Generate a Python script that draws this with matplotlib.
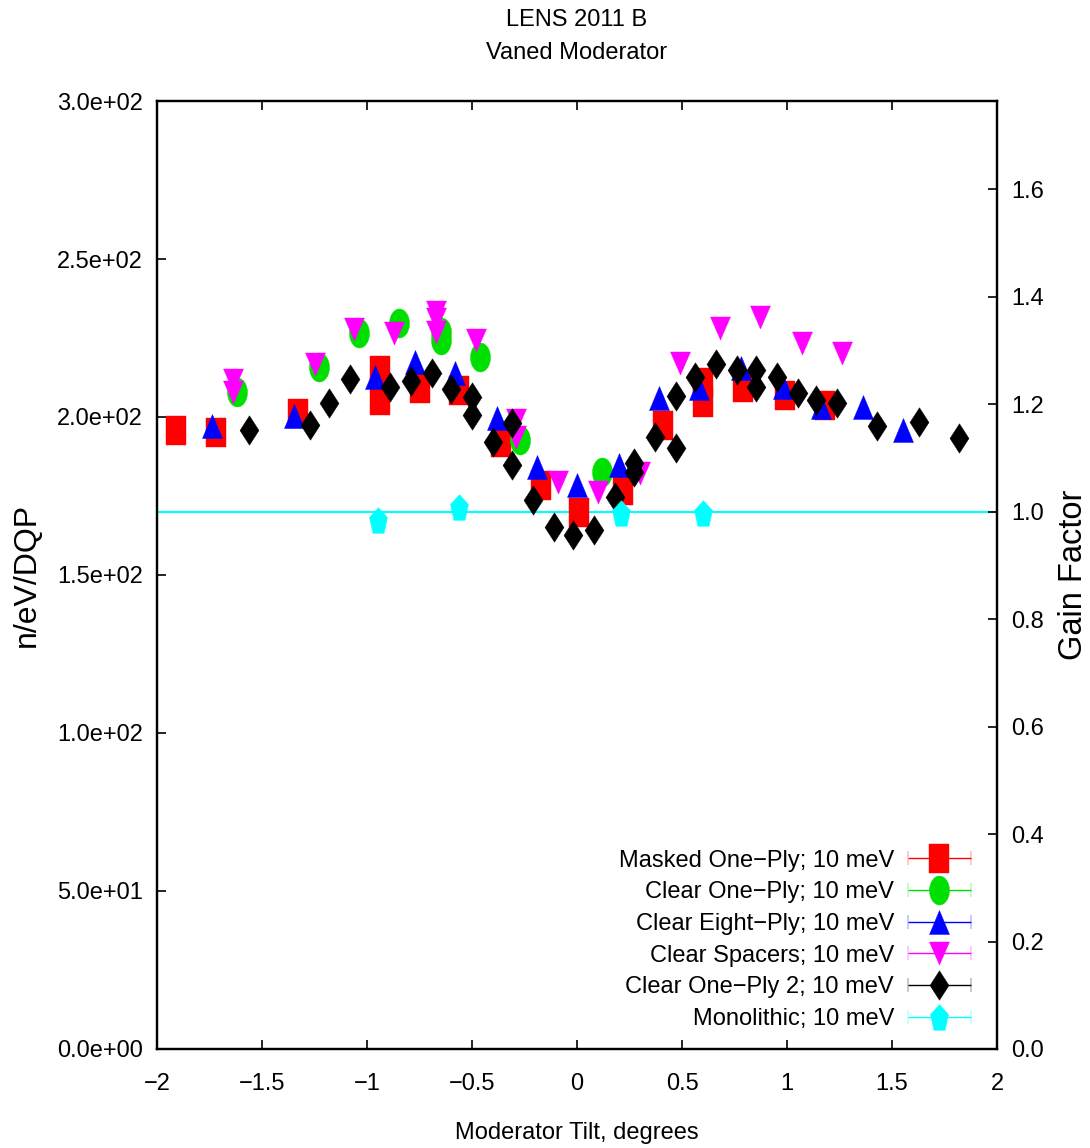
import numpy as np
import matplotlib
matplotlib.use("Agg")
import matplotlib.pyplot as plt
from matplotlib.path import Path
from matplotlib.ticker import FuncFormatter, MultipleLocator
from matplotlib.legend_handler import HandlerErrorbar
from matplotlib.container import ErrorbarContainer

plt.rcParams['font.family'] = ['Liberation Sans', 'DejaVu Sans']
plt.rcParams['axes.unicode_minus'] = True

# ---- measured flux (n/eV/DQP) versus moderator tilt (degrees) ----
masked_x = [-1.91, -1.72, -1.33, -0.94, -0.94, -0.75, -0.56, -0.36, -0.17, 0.01,
            0.22, 0.41, 0.60, 0.60, 0.79, 0.99, 1.18]
masked_y = [195.9, 195.2, 201.4, 214.9, 205.4, 209.1, 208.5, 192.2, 178.5, 170.0,
            176.9, 197.5, 211.2, 204.9, 209.6, 207.0, 203.8]

clear1_x = [-1.62, -1.23, -1.04, -0.85, -0.65, -0.65, -0.46, -0.27, 0.12]
clear1_y = [208.0, 215.9, 226.5, 229.7, 227.0, 224.4, 219.1, 192.7, 182.7]

clear8_x = [-1.74, -1.35, -0.96, -0.77, -0.58, -0.38, -0.19, 0.00, 0.20, 0.39,
            0.58, 0.78, 0.98, 1.16, 1.36, 1.55]
clear8_y = [197.0, 200.3, 212.6, 217.5, 213.8, 199.6, 184.3, 178.5, 184.8, 205.9,
            209.1, 215.4, 209.6, 203.3, 203.3, 195.9]

spacers_x = [-1.64, -1.64, -1.25, -1.06, -0.87, -0.67, -0.67, -0.67, -0.48, -0.29,
             -0.29, -0.09, 0.10, 0.30, 0.49, 0.68, 0.87, 1.07, 1.26]
spacers_y = [211.7, 208.0, 216.8, 228.0, 226.5, 233.3, 231.0, 227.0, 224.4, 199.0,
             193.7, 179.5, 176.4, 182.3, 217.0, 228.1, 231.7, 223.3, 220.2]

clear1b_x = [-1.56, -1.27, -1.18, -1.08, -0.89, -0.79, -0.69, -0.60, -0.50, -0.50,
             -0.40, -0.31, -0.31, -0.21, -0.11, -0.02, 0.08, 0.18, 0.27, 0.27,
             0.37, 0.47, 0.47, 0.56, 0.66, 0.76, 0.85, 0.85, 0.95, 1.05,
             1.14, 1.24, 1.43, 1.63, 1.82]
clear1b_y = [195.9, 197.5, 204.3, 211.9, 209.4, 211.5, 213.8, 208.8, 206.4, 200.6,
             192.2, 198.0, 184.8, 173.7, 165.3, 162.7, 164.2, 174.8, 185.5, 182.6,
             193.6, 190.1, 206.6, 212.6, 216.8, 214.9, 214.9, 209.6, 212.6, 207.7,
             205.4, 204.3, 197.0, 198.5, 193.3]

mono_x = [-0.95, -0.56, 0.21, 0.60]
mono_y = [167.4, 171.6, 169.7, 169.7]

# flux of the monolithic moderator, taken as gain factor 1
mono_ref = 170.0

labels = ["Masked One\u2212Ply; 10 meV", "Clear One\u2212Ply; 10 meV",
          "Clear Eight\u2212Ply; 10 meV", "Clear Spacers; 10 meV",
          "Clear One\u2212Ply 2; 10 meV", "Monolithic; 10 meV"]

DPI = 100
PT = DPI / 72.0
FS = 17


def shape(verts):
    v = np.asarray(verts, float)
    v[:, 1] -= (v[:, 1].max() + v[:, 1].min()) / 2
    return Path(np.vstack([v, v[:1]]), closed=True)


def size_for(path, width_px):
    # marker size (pt) that gives the requested on-screen width
    v = path.vertices
    maxabs = np.abs(v).max()
    return width_px / PT * maxabs / (0.5 * (v[:, 0].max() - v[:, 0].min()))


t = np.linspace(0, 2 * np.pi, 64, endpoint=False)
a5 = np.deg2rad(90 + 72 * np.arange(5))
m_square = shape([(-1, -1.45), (1, -1.45), (1, 1.45), (-1, 1.45)])
m_circle = shape(np.column_stack([np.cos(t), 1.45 * np.sin(t)]))
m_up = shape([(-1, -1.2), (1, -1.2), (0, 1.2)])
m_down = shape([(-1, 1.15), (1, 1.15), (0, -1.15)])
m_diamond = shape([(0, -1.55), (1, 0), (0, 1.55), (-1, 0)])
m_pent = shape(np.column_stack([np.cos(a5), 1.5 * np.sin(a5)]))

series = [
    (masked_x, masked_y, m_square, 20, "#ff0000"),
    (clear1_x, clear1_y, m_circle, 20, "#00e000"),
    (clear8_x, clear8_y, m_up, 20, "#0000ff"),
    (spacers_x, spacers_y, m_down, 20, "#ff00ff"),
    (clear1b_x, clear1b_y, m_diamond, 19, "#000000"),
    (mono_x, mono_y, m_pent, 18, "#00ffff"),
]

fig = plt.figure(figsize=(10.9, 11.48), dpi=DPI)
ax = fig.add_axes([0.14404, 0.08624, 0.77064, 0.82578])
ax2 = ax.twinx()

ax.axhline(mono_ref, color="#00ffff", lw=1.5, zorder=2)

handles = []
for i, ((xs, ys, mk, w, c), lab) in enumerate(zip(series, labels)):
    ms = size_for(mk, w)
    ax.plot(xs, ys, ls="none", marker=mk, ms=ms, color=c, mec=c, mew=0.3,
            zorder=3 + i)
    h = ax.errorbar([np.nan], [np.nan], xerr=[1.0], ls="none", marker=mk, ms=ms,
                    color=c, mec=c, mew=0.3, elinewidth=1.0, capsize=4.7,
                    capthick=1.0, label=lab)
    handles.append(h)

ax.set_xlim(-2, 2)
ax.set_ylim(0, 300)
ax2.set_ylim(0, 300 / mono_ref)

ax.xaxis.set_major_locator(MultipleLocator(0.5))
ax.yaxis.set_major_locator(MultipleLocator(50))
ax2.yaxis.set_major_locator(MultipleLocator(0.2))
ax.xaxis.set_major_formatter(FuncFormatter(lambda v, p: ("%g" % v).replace("-", "\u2212")))
ax.yaxis.set_major_formatter(FuncFormatter(lambda v, p: "%.1e" % v))
ax2.yaxis.set_major_formatter(FuncFormatter(lambda v, p: "%.1f" % v))

ax.tick_params(axis="x", direction="in", length=6.5, width=1.2, top=True,
               labelsize=FS, pad=17)
ax.tick_params(axis="y", direction="in", length=6.5, width=1.2, right=False,
               labelsize=FS, pad=10)
ax2.tick_params(axis="y", direction="in", length=6.5, width=1.2,
                labelsize=FS, pad=10)
for a in (ax, ax2):
    for s in a.spines.values():
        s.set_linewidth(1.6)

leg = ax.legend(handles=handles, loc="lower right",
                bbox_to_anchor=((971 - 157) / 840, (1049 - 1030) / 948),
                frameon=False, markerfirst=False, fontsize=FS,
                borderpad=0, borderaxespad=0, handlelength=2.67,
                handletextpad=0.59, labelspacing=0.41,
                handler_map={ErrorbarContainer: HandlerErrorbar(xerr_size=1.33)})
leg.set_zorder(20)

fig.text(577 / 1090, 1 - 20 / 1148, "LENS 2011 B", ha="center", va="center", fontsize=FS)
fig.text(577 / 1090, 1 - 53 / 1148, "Vaned Moderator", ha="center", va="center", fontsize=FS)
fig.text(577 / 1090, 1 - 1133 / 1148, "Moderator Tilt, degrees", ha="center",
         va="center", fontsize=FS)
fig.text(27 / 1090, 1 - 575 / 1148, "n/eV/DQP", ha="center", va="center",
         rotation=90, fontsize=23)
fig.text(1073 / 1090, 1 - 575 / 1148, "Gain Factor", ha="center", va="center",
         rotation=90, fontsize=23.5)

fig.savefig("out.png", dpi=DPI)
